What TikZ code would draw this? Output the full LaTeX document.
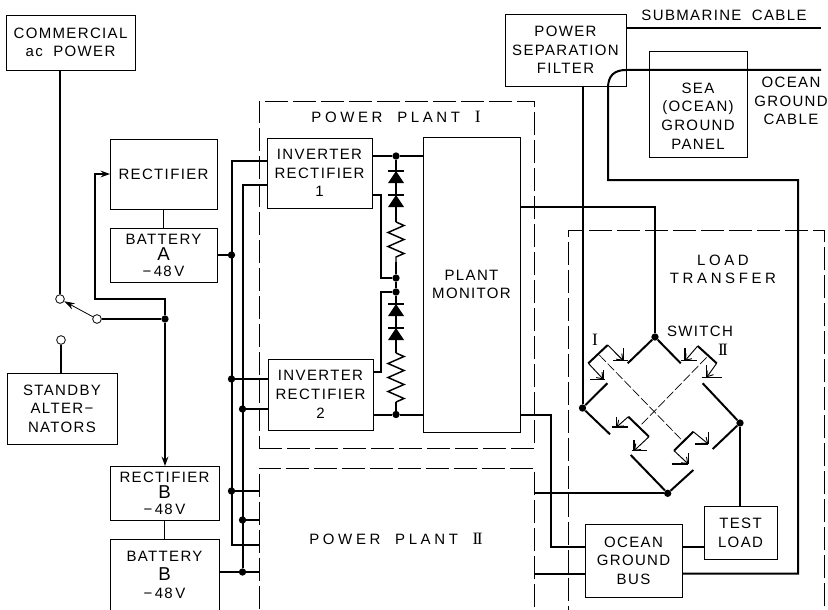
\documentclass[tikz,border=0pt]{standalone}
\usepackage{fontspec}
\setmainfont[LetterSpace=9,WordSpace=1.9]{Liberation Sans}
\newfontfamily\romanfont{Liberation Serif}
\usetikzlibrary{positioning,arrows.meta,calc,decorations.pathmorphing}
\newcommand{\bigletter}[1]{{\fontsize{14}{12}\selectfont #1}}
\newcommand{\volts}{−\,48\kern2pt V}
\newcommand{\romanone}{{\romanfont\fontsize{13}{14}\selectfont I}}
\newcommand{\romantwo}{{\romanfont\fontsize{13}{14}\selectfont I\kern-1.2pt I}}

\begin{document}
\begin{tikzpicture}[
    x=0.75pt,
    y=-0.75pt,
    font=\fontsize{11.25}{14}\selectfont,
    box/.style 2 args={
        draw,
        line width=0.7pt,
        minimum width=#1*0.75pt,
        minimum height=#2*0.75pt,
        inner sep=0pt,
        outer sep=0pt,
        align=center
    },
    tight/.style={font=\fontsize{11.25}{12}\selectfont},
    phase/.style={
        draw,
        line width=0.7pt,
        dash pattern=on 17pt off 4pt,
        minimum width=#1*0.75pt,
        inner sep=0pt,
        outer sep=0pt
    },
    txt/.style={align=center, inner sep=0pt},
    wide/.style={font=\fontsize{11.25}{14}\selectfont\addfontfeature{LetterSpace=24}},
    wire/.style={line width=1.5pt},
    thinwire/.style={line width=1.1pt},
    arrow/.style={wire, -{Stealth[length=7pt,width=5pt]}},
    armarrow/.style={line width=0.6pt, -{Stealth[length=8pt,width=5pt]}},
    contactarrow/.style={line width=0.7pt, -{Straight Barb[length=4pt,width=6pt]}},
    bar/.style={line width=0.8pt},
    crossdash/.style={line width=0.5pt, dash pattern=on 7pt off 2pt},
    resistor/.style={thinwire, decorate,
        decoration={zigzag, amplitude=6pt, segment length=10.5pt}},
    junction/.style={circle, fill, inner sep=0pt, minimum size=5.5pt},
    swpoint/.style={circle, draw, fill=white, line width=0.6pt, inner sep=0pt, minimum size=6.5pt}
]
\useasboundingbox (0,0) rectangle (828,610);
\clip (0,0) rectangle (828,610);

% ============================================================
% FRAMES
% ============================================================
\node[phase=275, minimum height=347*0.75pt] (plantI) at (396.5,274.5) {};
\node[phase=275, minimum height=172*0.75pt] (plantII) at (396.5,554) {};
\node[phase=256, minimum height=400*0.75pt] (transfer) at (696,430) {};
\node[txt, wide] (plantItxt) at (396,117) {POWER PLANT \romanone};
\node[txt, wide] (plantIItxt) at (396,539) {POWER PLANT \romantwo};
\node[txt, wide] (transfertxt) at (723,269.5) {LOAD\\TRANSFER};

% ============================================================
% LEFT SIDE
% ============================================================
\node[box={129}{55}] (commercial) at (70.5,42.5) {COMMERCIAL\\ac POWER};
\node[box={107}{70}] (rectA) at (163.5,174) {RECTIFIER};
\node[box={107}{54}, tight, below=14.25pt of rectA] (battA) {BATTERY\\\bigletter{A}\\\volts};
\node[box={110}{71}] (standby) at (62,408.5) {STANDBY\\ALTER−\\NATORS};
\node[box={109}{54}, tight] (rectB) at (164.5,493) {RECTIFIER\\\bigletter{B}\\\volts};
\node[box={109}{72}, below=14.25pt of rectB] (battB) {BATTERY\\\bigletter{B}\\\volts};

\node[swpoint] (swA) at (60,299) {};
\node[swpoint] (swB) at (97,319) {};
\node[swpoint] (swC) at (61,340) {};
\node[junction] (dotS) at (165,319) {};
\coordinate (loop) at (95,299);

\draw[thinwire] (commercial.south -| swA) -- (swA);
\draw[thinwire] (swC) -- (standby.north -| swC);
\draw[armarrow] (swB) -- (swA);
\draw[wire] (swB) -- (dotS);
\draw[arrow] (dotS) |- (loop) |- (rectA.west);
\draw[arrow] (dotS) -- (rectB.north -| dotS);
\draw[thinwire] (rectA.south) -- (battA.north);
\draw[thinwire] (rectB.south) -- (battB.north);

% ============================================================
% BUSES
% ============================================================
\node[box={105}{70}] (invI) at (319.5,173) {INVERTER\\RECTIFIER\\1};
\node[box={105}{71}] (invII) at (320.5,394.5) {INVERTER\\RECTIFIER\\2};

\coordinate (busAtop) at (231.5,161);
\coordinate (busAbot) at (231.5,545);
\coordinate (busBtop) at (242.5,185);
\node[junction] (dotAa) at (231.5,255) {};
\node[junction] (dotAb) at (231.5,379) {};
\node[junction] (dotAc) at (231.5,491) {};
\node[junction] (dotBa) at (242.5,409) {};
\node[junction] (dotBb) at (242.5,520) {};
\node[junction] (dotBc) at (242.5,572) {};

\draw[wire] (invI.west |- busAtop) -- (busAtop) -- (busAbot) -- (plantII.west |- busAbot);
\draw[wire] (invI.west |- busBtop) -- (busBtop) -- (dotBc);
\draw[wire] (battA.east |- dotAa) -- (dotAa);
\draw[wire] (dotAb) -- (invII.west |- dotAb);
\draw[wire] (dotBa) -- (invII.west |- dotBa);
\draw[wire] (dotAc) -- (plantII.west |- dotAc);
\draw[wire] (dotBb) -- (plantII.west |- dotBb);
\draw[wire] (battB.east |- dotBc) -- (plantII.west |- dotBc);

% ============================================================
% POWER PLANT I
% ============================================================
\node[box={97}{295}] (monitor) at (471.5,284.5) {PLANT\\MONITOR};

\node[junction] (dotIa) at (396,156) {};
\node[junction] (dotIb) at (396,278) {};
\node[junction] (dotIc) at (396,292) {};
\node[junction] (dotId) at (396,414.5) {};
\coordinate (resAtop) at (396,222);
\coordinate (resAbot) at (396,262);
\coordinate (resBtop) at (396,353);
\coordinate (resBbot) at (396,402);

\draw[wire] (invI.east |- dotIa) -- (dotIa) -- (monitor.west |- dotIa);
\draw[wire] (invII.east |- dotId) -- (dotId) -- (monitor.west |- dotId);
\draw[wire] (dotIa) -- (resAtop);
\draw[resistor] (resAtop) -- (resAbot);
\draw[wire] (resAbot) -- (dotIb) -- (dotIc) -- (resBtop);
\draw[resistor] (resBtop) -- (resBbot);
\draw[wire] (resBbot) -- (dotId);
\draw[wire] (invI.east |- 0,195) -- (381,195) |- (dotIb);
\draw[wire] (dotIc) -- (381,292) |- (invII.east |- 0,372);

% diodes
\foreach \y in {171,195,304,328} {
    \fill (388,\y+12) -- (396,\y) -- (404,\y+12) -- cycle;
    \draw[bar] (388,\y) -- (404,\y);
}

% ============================================================
% CABLES
% ============================================================
\node[box={121}{72}] (filter) at (565.5,50) {POWER\\SEPARATION\\FILTER};
\node[box={98}{106}] (sea) at (698,104) {};
\node[txt] (seatxt) at (698,116) {SEA\\(OCEAN)\\GROUND\\PANEL};
\node[txt] (subtxt) at (724,15) {SUBMARINE CABLE};
\node[txt] (oceantxt) at (791,101) {OCEAN\\GROUND\\CABLE};
\node[box={97}{73}] (bus) at (633.5,560.5) {OCEAN\\GROUND\\BUS};
\node[box={73}{53}] (testload) at (740.5,532.5) {TEST\\LOAD};

\node[junction] (dotT) at (655,337) {};
\node[junction] (dotL) at (582.5,408) {};
\node[junction] (dotR) at (740,423) {};
\node[junction] (dotB) at (667.7,493.3) {};

\draw[thinwire] (filter.east |- 0,28) -- (821,28);
\draw[wire] (bus.east |- 0,573.5) -- (798,573.5) -- (798,180) -- (608,180) -- (608,88)
    .. controls (608,76) and (614,70) .. (626,70) -- (821,70);
\draw[wire] (filter.south -| dotL) -- (dotL);
\draw[wire] (monitor.east |- 0,207) -| (dotT);
\draw[wire] (monitor.east |- 0,414.5) -- (551,414.5) |- (bus.west |- 0,547);
\draw[wire] (plantII.east |- dotB) -- (dotB);
\draw[wire] (plantII.east |- 0,573.5) -- (bus.west |- 0,573.5);
\draw[wire] (bus.east |- 0,547) -- (testload.west |- 0,547);
\draw[thinwire] (dotR) -- (testload.north -| dotR);

% ============================================================
% SWITCH
% ============================================================
\node[txt] (switchtxt) at (700,331) {SWITCH};
\node[txt] (swI) at (595,340) {\romanone};
\node[txt] (swII) at (723,350) {\romantwo};

\draw[crossdash] (599.3,355) -- (681.7,440);
\draw[crossdash] (706.7,357.3) -- (640,426);

\draw[wire] (dotT) -- (627.7,363.3);
\draw[wire] (607.7,345) -- (588.3,363.3);
\draw[wire] (607.3,383.3) -- (dotL);
\draw[wire] (dotT) -- (680.7,363.3);
\draw[wire] (697.7,346) -- (716.7,363.3);
\draw[wire] (702.7,383.3) -- (dotR);
\draw[wire] (dotL) -- (610,434.3);
\draw[wire] (628.3,416.7) -- (649,436.7);
\draw[wire] (630.7,455) -- (dotB);
\draw[wire] (dotB) -- (693.3,470);
\draw[wire] (674,450.7) -- (693.3,431.7);
\draw[wire] (712.7,449) -- (dotR);

% contacts
\foreach \sx/\sy/\cx/\cy/\vy/\hl/\hr in {
    607.7/345/623.3/360.7/348.3/613.3/628.3,
    588.3/363.3/603.3/379.3/370/590/605,
    697.7/346/685/360.7/348.3/680.7/696.7,
    716.7/363.3/706.7/377.3/365/701.7/721.7,
    628.3/416.7/616.7/427/416.7/611.7/628.3,
    649/436.7/634/450.7/440/631.7/647.3,
    674/450.7/688.3/464/453/671.7/688.3,
    693.3/431.7/708.3/444/432/695/708.3} {
    \draw[contactarrow] (\sx,\sy) -- (\cx,\cy);
    \draw[bar] (\cx,\vy) -- (\cx,\cy);
    \draw[bar] (\hl,\cy) -- (\hr,\cy);
}

\end{tikzpicture}
\end{document}
